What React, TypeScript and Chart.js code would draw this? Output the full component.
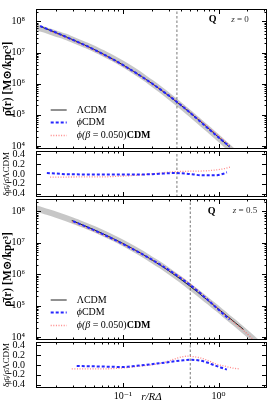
import React, { useEffect, useRef } from "react";
import { Chart, registerables } from "chart.js";

Chart.register(...registerables);

// ---------------- data ----------------
// axis limits
const X_MIN = 0.0124;
const X_MAX = 3.2;
const RHO_MIN = 8e3;
const RHO_MAX = 2.5e8;
const RES_MIN = -0.47;
const RES_MAX = 0.47;

// tick values / labels
const xTickValues = [0.1, 1];
const xTickLabels = ["10⁻¹", "10⁰"];
const xMinorTicks = [0.02, 0.03, 0.04, 0.05, 0.06, 0.07, 0.08, 0.09, 0.2, 0.3, 0.4, 0.5, 0.6, 0.7, 0.8, 0.9, 2, 3];
const rhoTickValues = [1e4, 1e5, 1e6, 1e7, 1e8];
const rhoTickLabels = ["10⁴", "10⁵", "10⁶", "10⁷", "10⁸"];
const rhoMinorTicks = [
  2e3, 3e3, 4e3, 5e3, 6e3, 7e3, 8e3, 9e3,
  2e4, 3e4, 4e4, 5e4, 6e4, 7e4, 8e4, 9e4,
  2e5, 3e5, 4e5, 5e5, 6e5, 7e5, 8e5, 9e5,
  2e6, 3e6, 4e6, 5e6, 6e6, 7e6, 8e6, 9e6,
  2e7, 3e7, 4e7, 5e7, 6e7, 7e7, 8e7, 9e7,
  2e8,
];
const resTickValues = [-0.4, -0.2, 0, 0.2, 0.4];
const resTickLabels = ["−0.4", "−0.2", "0.0", "0.2", "0.4"];

// legend labels
const legendLabels = ["ΛCDM", "ϕCDM", "ϕ(β = 0.050)CDM"];

// ---- z = 0 ----
const rBand0 = [0.0124, 0.015, 0.02, 0.025, 0.03, 0.04, 0.05, 0.06, 0.08, 0.1, 0.13, 0.16, 0.2, 0.25, 0.3, 0.4, 0.5, 0.6, 0.8, 1.0, 1.2, 1.5, 1.8];
const band0 = [6.61e7, 5.5e7, 4.07e7, 3.24e7, 2.57e7, 1.78e7, 1.32e7, 1.0e7, 6.38e6, 4.32e6, 2.63e6, 1.72e6, 1.05e6, 6.3e5, 4.07e5, 2.0e5, 1.12e5, 6.92e4, 3.24e4, 1.78e4, 1.07e4, 5.75e3, 3.47e3];

const rLcdm0 = [0.0137, 0.015, 0.02, 0.025, 0.03, 0.04, 0.05, 0.06, 0.08, 0.1, 0.13, 0.16, 0.2, 0.25, 0.3, 0.4, 0.5, 0.6, 0.8, 1.0, 1.2, 1.3];
const lcdm0 = [6.92e7, 6.17e7, 4.36e7, 3.29e7, 2.59e7, 1.75e7, 1.26e7, 9.53e6, 5.96e6, 4.03e6, 2.47e6, 1.64e6, 1.03e6, 6.3e5, 4.15e5, 2.08e5, 1.19e5, 7.46e4, 3.49e4, 1.91e4, 1.15e4, 9.23e3];
const phi0 = [7.13e7, 6.29e7, 4.4e7, 3.27e7, 2.57e7, 1.74e7, 1.25e7, 9.43e6, 5.9e6, 3.99e6, 2.45e6, 1.63e6, 1.03e6, 6.33e5, 4.21e5, 2.1e5, 1.19e5, 7.31e4, 3.4e4, 1.87e4, 1.18e4, 9.6e3];

const rBeta0 = [0.0174, 0.02, 0.025, 0.03, 0.04, 0.05, 0.06, 0.08, 0.1, 0.13, 0.16, 0.2, 0.25, 0.3, 0.4, 0.5, 0.6, 0.8, 1.0, 1.2, 1.35];
const beta0 = [4.83e7, 4.08e7, 3.09e7, 2.43e7, 1.65e7, 1.18e7, 9.01e6, 5.66e6, 3.86e6, 2.4e6, 1.61e6, 1.03e6, 6.43e5, 4.3e5, 2.18e5, 1.25e5, 7.89e4, 3.73e4, 2.08e4, 1.29e4, 9.55e3];

const rResPhi0 = [0.0161, 0.02, 0.026, 0.04, 0.0579, 0.09, 0.129, 0.193, 0.26, 0.338, 0.4, 0.467, 0.55, 0.643, 0.8, 0.962, 1.1, 1.22];
const resPhi0 = [0.02, 0.01, -0.005, -0.008, -0.01, -0.01, -0.01, -0.005, 0.008, 0.02, 0.015, 0.005, -0.01, -0.025, -0.028, -0.025, 0.0, 0.035];
const rResBeta0 = [0.0174, 0.026, 0.04, 0.0579, 0.0937, 0.152, 0.22, 0.338, 0.45, 0.643, 0.8, 0.962, 1.15, 1.32];
const resBeta0 = [-0.065, -0.062, -0.06, -0.06, -0.045, -0.02, 0.01, 0.045, 0.055, 0.06, 0.07, 0.085, 0.11, 0.14];

const rDelta0 = 0.367;

// ---- z = 0.5 ----
const rBand5 = [0.0124, 0.015, 0.02, 0.03, 0.04, 0.05, 0.06, 0.08, 0.1, 0.13, 0.16, 0.2, 0.25, 0.3, 0.4, 0.5, 0.6, 0.8, 1.0, 1.2, 1.5, 1.8, 2.2, 2.6, 3.0];
const band5 = [1.26e8, 1.05e8, 7.94e7, 5.13e7, 3.63e7, 2.75e7, 2.14e7, 1.41e7, 1.0e7, 6.46e6, 4.47e6, 2.9e6, 1.88e6, 1.28e6, 6.81e5, 4.05e5, 2.62e5, 1.3e5, 7.53e4, 4.67e4, 2.69e4, 1.66e4, 9.77e3, 6.17e3, 4.07e3];

const rLcdm5 = [0.0293, 0.04, 0.05, 0.06, 0.08, 0.1, 0.13, 0.16, 0.2, 0.25, 0.3, 0.4, 0.5, 0.6, 0.8, 1.0, 1.2, 1.5, 1.82];
const lcdm5 = [5.15e7, 3.5e7, 2.62e7, 2.04e7, 1.35e7, 9.62e6, 6.27e6, 4.38e6, 2.9e6, 1.88e6, 1.3e6, 6.97e5, 4.19e5, 2.72e5, 1.33e5, 7.71e4, 4.89e4, 2.81e4, 1.74e4];

const rPhi5 = [0.0303, 0.04, 0.05, 0.06, 0.08, 0.1, 0.13, 0.16, 0.2, 0.25, 0.3, 0.4, 0.5, 0.6, 0.8, 1.0, 1.2, 1.3];
const phi5 = [4.89e7, 3.41e7, 2.55e7, 1.98e7, 1.3e7, 9.24e6, 6.08e6, 4.34e6, 2.95e6, 1.96e6, 1.38e6, 7.6e5, 4.63e5, 2.98e5, 1.37e5, 7.4e4, 4.45e4, 3.6e4];

const rBeta5 = [0.0293, 0.04, 0.05, 0.06, 0.08, 0.1, 0.13, 0.16, 0.2, 0.25, 0.3, 0.4, 0.5, 0.6, 0.8, 1.0, 1.2, 1.5, 1.8, 2.4];
const beta5 = [4.74e7, 3.22e7, 2.41e7, 1.88e7, 1.26e7, 9.04e6, 6.02e6, 4.29e6, 2.91e6, 1.96e6, 1.4e6, 8.09e5, 4.94e5, 3.16e5, 1.44e5, 7.79e4, 4.69e4, 2.61e4, 1.64e4, 7.4e3];

const rResPhi5 = [0.033, 0.0579, 0.1015, 0.14, 0.193, 0.277, 0.36, 0.43, 0.506, 0.643, 0.76, 0.887, 1.05, 1.22];
const resPhi5 = [-0.02, -0.03, -0.04, -0.015, 0.014, 0.05, 0.08, 0.095, 0.106, 0.09, 0.05, 0.0, -0.05, -0.094];
const rResBeta5 = [0.0293, 0.0579, 0.1015, 0.14, 0.193, 0.277, 0.36, 0.47, 0.55, 0.643, 0.8, 0.962, 1.2, 1.43, 1.67];
const resBeta5 = [-0.08, -0.08, -0.06, -0.03, 0.0, 0.06, 0.134, 0.18, 0.17, 0.146, 0.08, 0.014, -0.03, -0.066, -0.08];

const rDelta5 = 0.506;

// ---------------- styling / layout ----------------
const FONT = "'Liberation Serif', 'DejaVu Serif', serif";
const W = 269;
const PLOT_LEFT = 36;
const PLOT_RIGHT = 267;
const PAD = 8;
const XAXIS_H = 16;

const STYLE: Record<string, any> = {
  band: { borderColor: "rgba(185,185,185,0.8)", borderWidth: 6, order: 5 },
  lcdm: { borderColor: "#222222", borderWidth: 1, order: 3 },
  phi: { borderColor: "#2626ff", borderWidth: 2, borderDash: [3, 2], order: 1 },
  beta: { borderColor: "rgba(255,95,95,0.75)", borderWidth: 1.3, borderDash: [1, 1.6], order: 2 },
  vline: { borderColor: "#555555", borderWidth: 0.8, borderDash: [2.5, 2], order: 4 },
};

function series(label: string, xs: number[], ys: number[], style: any) {
  return {
    label,
    data: xs.map((x, i) => ({ x, y: ys[i] })),
    pointRadius: 0,
    fill: false,
    clip: 0,
    cubicInterpolationMode: "monotone",
    ...style,
  };
}

function vline(x: number, y0: number, y1: number) {
  return { label: "rDelta", data: [{ x, y: y0 }, { x, y: y1 }], pointRadius: 0, fill: false, clip: 0, ...STYLE.vline };
}

type Spec = {
  top: number;
  height: number;
  kind: "rho" | "res";
  datasets: any[];
  last: boolean;
  legend: boolean;
  tag?: { dy: number; qx: number; zx: number; z: string };
};

const specs: Spec[] = [
  {
    top: 8, height: 142, kind: "rho", last: false, legend: true,
    tag: { dy: 10.5, qx: 212.7, zx: 240, z: "0" },
    datasets: [
      series("band", rBand0, band0, STYLE.band),
      series(legendLabels[0], rLcdm0, lcdm0, STYLE.lcdm),
      series(legendLabels[1], rLcdm0, phi0, STYLE.phi),
      series(legendLabels[2], rBeta0, beta0, STYLE.beta),
      vline(rDelta0, RHO_MIN, RHO_MAX),
    ],
  },
  {
    top: 150, height: 48, kind: "res", last: false, legend: false,
    datasets: [
      series("phi", rResPhi0, resPhi0, STYLE.phi),
      series("beta", rResBeta0, resBeta0, STYLE.beta),
      vline(rDelta0, RES_MIN, RES_MAX),
    ],
  },
  {
    top: 198, height: 143, kind: "rho", last: false, legend: true,
    tag: { dy: 12, qx: 211.7, zx: 245, z: "0.5" },
    datasets: [
      series("band", rBand5, band5, STYLE.band),
      series(legendLabels[0], rLcdm5, lcdm5, STYLE.lcdm),
      series(legendLabels[1], rPhi5, phi5, STYLE.phi),
      series(legendLabels[2], rBeta5, beta5, STYLE.beta),
      vline(rDelta5, RHO_MIN, RHO_MAX),
    ],
  },
  {
    top: 341, height: 47, kind: "res", last: true, legend: false,
    datasets: [
      series("phi", rResPhi5, resPhi5, STYLE.phi),
      series("beta", rResBeta5, resBeta5, STYLE.beta),
      vline(rDelta5, RES_MIN, RES_MAX),
    ],
  },
];

function drawSegs(ctx: CanvasRenderingContext2D, segs: { t: string; f: string; dy?: number }[], x: number, y: number, align: "left" | "center") {
  let total = 0;
  for (const s of segs) { ctx.font = s.f; total += ctx.measureText(s.t).width; }
  let cx = align === "center" ? x - total / 2 : x;
  ctx.textAlign = "left";
  for (const s of segs) {
    ctx.font = s.f;
    ctx.fillText(s.t, cx, y + (s.dy || 0));
    cx += ctx.measureText(s.t).width;
  }
}

const decor = {
  id: "decor",
  afterDatasetsDraw(chart: any, _args: any, opts: any) {
    const { ctx, chartArea: a } = chart;
    const xs = chart.scales.x;
    const ys = chart.scales.y;
    const L = Math.round(a.left), R = Math.round(a.right), T = Math.round(a.top), B = Math.round(a.bottom);
    ctx.save();
    ctx.strokeStyle = "#000";
    ctx.lineWidth = 1;
    ctx.setLineDash([]);
    const seg = (x1: number, y1: number, x2: number, y2: number) => {
      ctx.beginPath(); ctx.moveTo(x1, y1); ctx.lineTo(x2, y2); ctx.stroke();
    };
    const xt = (v: number, len: number) => {
      const p = Math.round(xs.getPixelForValue(v)) + 0.5;
      if (p <= L + 1 || p >= R - 1) return;
      seg(p, B, p, B - len);
      seg(p, T, p, T + len);
    };
    const yt = (v: number, len: number) => {
      const p = Math.round(ys.getPixelForValue(v)) + 0.5;
      if (p <= T + 1 || p >= B - 1) return;
      seg(L, p, L + len, p);
      seg(R, p, R - len, p);
    };
    xTickValues.forEach((v) => xt(v, 5));
    xMinorTicks.forEach((v) => xt(v, 2.5));
    if (opts.kind === "rho") {
      rhoTickValues.forEach((v) => yt(v, 5));
      rhoMinorTicks.forEach((v) => yt(v, 2.5));
    } else {
      resTickValues.forEach((v) => yt(v, 5));
    }
    ctx.strokeRect(L + 0.5, T + 0.5, R - L - 1, B - T - 1);

    ctx.fillStyle = "#000";
    ctx.textBaseline = "middle";
    if (opts.legend) {
      const rows = [101, 113.5, 126.5];
      const ds = chart.data.datasets;
      for (let i = 0; i < 3; i++) {
        const d = ds[i + 1];
        const y = a.top + rows[i];
        ctx.strokeStyle = d.borderColor;
        ctx.lineWidth = d.borderWidth;
        ctx.setLineDash(d.borderDash || []);
        seg(a.left + 14.7, y, a.left + 30.7, y);
      }
      ctx.setLineDash([]);
      const f = `10px ${FONT}`;
      const fb = `bold 10px ${FONT}`;
      drawSegs(ctx, [{ t: legendLabels[0], f }], a.left + 40.7, a.top + rows[0], "left");
      drawSegs(ctx, [{ t: "ϕ", f: `italic 10px ${FONT}` }, { t: "CDM", f }], a.left + 40.7, a.top + rows[1], "left");
      drawSegs(ctx, [{ t: "ϕ(", f: `italic 10px ${FONT}` }, { t: "β", f: `italic 10px ${FONT}` }, { t: " = 0.050)", f }, { t: "CDM", f: fb }], a.left + 40.7, a.top + rows[2], "left");
    }
    if (opts.tag) {
      const t = opts.tag;
      drawSegs(ctx, [{ t: "Q", f: `bold 10px ${FONT}` }], t.qx, a.top + t.dy, "center");
      ctx.fillStyle = "#333";
      drawSegs(ctx, [{ t: "z", f: `italic 9px ${FONT}` }, { t: " = " + t.z, f: `9px ${FONT}` }], t.zx, a.top + t.dy, "center");
    }
    ctx.restore();
  },
};

function makeConfig(spec: Spec): any {
  const isRho = spec.kind === "rho";
  const yVals = isRho ? rhoTickValues : resTickValues;
  const yLabels = isRho ? rhoTickLabels : resTickLabels;
  return {
    type: "line",
    data: { datasets: spec.datasets },
    options: {
      animation: false,
      responsive: false,
      events: [],
      layout: { padding: { left: 0, right: W - PLOT_RIGHT, top: PAD, bottom: spec.last ? 0 : PAD } },
      plugins: {
        legend: { display: false },
        tooltip: { enabled: false },
        decor: { kind: spec.kind, legend: spec.legend, tag: spec.tag },
      },
      scales: {
        x: {
          type: "logarithmic",
          min: X_MIN,
          max: X_MAX,
          display: spec.last,
          grid: { display: false },
          border: { display: false },
          afterBuildTicks: (s: any) => { s.ticks = xTickValues.map((v) => ({ value: v })); },
          afterFit: (s: any) => { s.height = spec.last ? XAXIS_H : 0; },
          ticks: {
            autoSkip: false,
            maxRotation: 0,
            padding: -6,
            color: "#000",
            font: { family: FONT, size: 10 },
            callback: (v: number) => { const i = xTickValues.indexOf(v); return i >= 0 ? xTickLabels[i] : ""; },
          },
          title: { display: true, text: "r/RΔ", color: "#000", font: { family: FONT, size: 11, style: "italic" }, padding: 0 },
        },
        y: {
          type: isRho ? "logarithmic" : "linear",
          min: isRho ? RHO_MIN : RES_MIN,
          max: isRho ? RHO_MAX : RES_MAX,
          grid: { display: false },
          border: { display: false },
          afterBuildTicks: (s: any) => { s.ticks = yVals.map((v) => ({ value: v })); },
          afterFit: (s: any) => { s.width = PLOT_LEFT; },
          ticks: {
            autoSkip: false,
            padding: 3,
            color: "#000",
            font: { family: FONT, size: 10 },
            callback: (v: number) => { const i = yVals.indexOf(v); return i >= 0 ? yLabels[i] : ""; },
          },
          title: {
            display: true,
            text: isRho ? "ρ̄(r) [M⊙/kpc³]" : "δρ̄ᵢ/ρ̄ΛCDM",
            color: "#000",
            font: { family: FONT, size: isRho ? 11.5 : 9, weight: isRho ? "bold" : "normal" },
            padding: { top: 1, bottom: 0 },
          },
        },
      },
    },
    plugins: [decor],
  };
}

function Panel({ spec }: { spec: Spec }) {
  const ref = useRef<HTMLCanvasElement>(null);
  const h = spec.height + PAD + (spec.last ? XAXIS_H : PAD);
  useEffect(() => {
    const chart = new Chart(ref.current as HTMLCanvasElement, makeConfig(spec));
    return () => chart.destroy();
  }, []);
  return (
    <canvas
      ref={ref}
      width={W}
      height={h}
      style={{ position: "absolute", left: 0, top: spec.top - PAD, width: W, height: h }}
    />
  );
}

export default function App() {
  return (
    <div style={{ position: "absolute", left: 0, top: 0, width: W, height: 416, background: "#fff" }}>
      {specs.map((s, i) => (
        <Panel key={i} spec={s} />
      ))}
    </div>
  );
}
